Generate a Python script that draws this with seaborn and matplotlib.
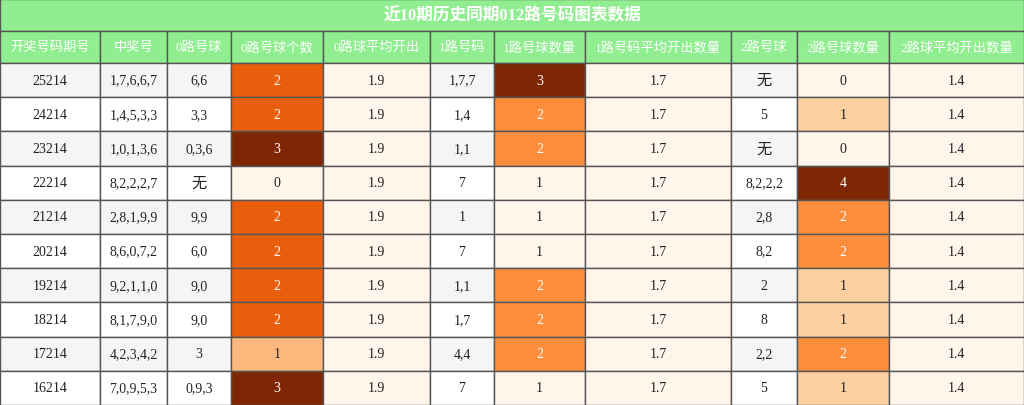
import numpy as np
import seaborn as sns
import matplotlib.pyplot as plt
from matplotlib.patches import Rectangle

sns.set_theme(style="white")
plt.rcParams['font.family'] = ['Liberation Serif', 'Noto Sans CJK SC', 'DejaVu Sans']

title = "近10期历史同期012路号码图表数据"
headers = ["开奖号码期号", "中奖号", "0路号球", "0路号球个数", "0路球平均开出", "1路号码",
           "1路号球数量", "1路号码平均开出数量", "2路号球", "2路号球数量", "2路球平均开出数量"]
periods = ["25214", "24214", "23214", "22214", "21214", "20214", "19214", "18214", "17214", "16214"]
numbers = ["1,7,6,6,7", "1,4,5,3,3", "1,0,1,3,6", "8,2,2,2,7", "2,8,1,9,9",
           "8,6,0,7,2", "9,2,1,1,0", "8,1,7,9,0", "4,2,3,4,2", "7,0,9,5,3"]
road0 = ["6,6", "3,3", "0,3,6", "无", "9,9", "6,0", "9,0", "9,0", "3", "0,9,3"]
count0 = [2, 2, 3, 0, 2, 2, 2, 2, 1, 3]
avg0 = [1.9] * 10
road1 = ["1,7,7", "1,4", "1,1", "7", "1", "7", "1,1", "1,7", "4,4", "7"]
count1 = [3, 2, 2, 1, 1, 1, 2, 2, 2, 1]
avg1 = [1.7] * 10
road2 = ["无", "5", "无", "8,2,2,2", "2,8", "8,2", "2", "8", "2,2", "5"]
count2 = [0, 1, 0, 4, 2, 2, 1, 1, 2, 1]
avg2 = [1.4] * 10

columns = [periods, numbers, road0, count0, avg0, road1, count1, avg1, road2, count2, avg2]
colored = {3, 4, 6, 7, 9, 10}
edges = [0, 100, 167, 231, 323, 430, 494, 585, 731, 797, 889, 1024]
cmap = sns.color_palette("Oranges", as_cmap=True)
green = "#90ee90"
line = "#555555"

fig = plt.figure(figsize=(10.24, 4.06), dpi=100)
ax = fig.add_axes([0, 0, 1, 1])
ax.set_xlim(0, 1024)
ax.set_ylim(406, 0)
ax.axis("off")

# title and header
ax.add_patch(Rectangle((0, 0), 1024, 32, fc=green, ec=line, lw=1))
ax.text(512, 16, title, ha="center", va="center", color="white", fontsize=12, fontweight="bold")
for j, h in enumerate(headers):
    x0, x1 = edges[j], edges[j + 1]
    ax.add_patch(Rectangle((x0, 32), x1 - x0, 32, fc=green, ec=line, lw=1))
    ax.text((x0 + x1) / 2, 48, h, ha="center", va="center", color="white", fontsize=9.5)

row_h = (406 - 64) / 10
for j, col in enumerate(columns):
    x0, x1 = edges[j], edges[j + 1]
    if j in colored:
        vals = np.array(col, dtype=float)
        rng = vals.max() - vals.min()
        norm = (vals - vals.min()) / rng if rng > 0 else np.zeros_like(vals)
    for i, v in enumerate(col):
        y0 = 64 + i * row_h
        if j in colored:
            fc = cmap(norm[i])
            tc = "white" if norm[i] > 0.4 else "#222222"
        else:
            fc = "#f5f5f5" if i % 2 == 0 else "white"
            tc = "#222222"
        ax.add_patch(Rectangle((x0, y0), x1 - x0, row_h, fc=fc, ec=line, lw=1))
        fs = 11 if v == "无" else 10
        ax.text((x0 + x1) / 2, y0 + row_h / 2, str(v), ha="center", va="center", color=tc, fontsize=fs)

fig.savefig("out.png", dpi=100)
